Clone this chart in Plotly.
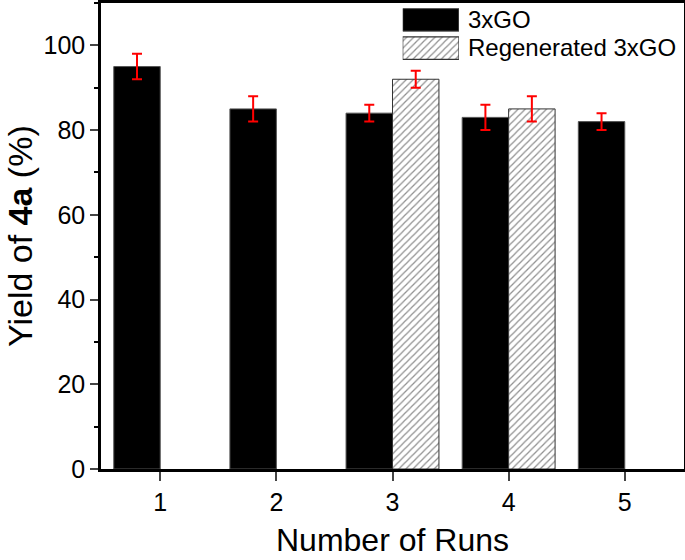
import plotly.graph_objects as go

runs = [1, 2, 3, 4, 5]
yield_go = [95, 85, 84, 83, 82]
err_go = [3, 3, 2, 3, 2]
runs_regen = [3, 4]
yield_regen = [92, 85]
err_regen = [2, 3]
series_names = ["3xGO", "Regenerated 3xGO"]
x_ticks = [1, 2, 3, 4, 5]
y_ticks = [0, 20, 40, 60, 80, 100]

FONT = "Arial, Liberation Sans, sans-serif"
hatch = dict(shape="/", fgcolor="#222222", bgcolor="white", size=5, solidity=0.25)

fig = go.Figure()
fig.add_trace(go.Bar(
    x=runs, y=yield_go, name=series_names[0],
    marker=dict(color="black", line=dict(color="#555555", width=1)),
    error_y=dict(type="data", array=err_go, color="#ff0000", thickness=2, width=5),
    showlegend=False,
))
fig.add_trace(go.Bar(
    x=runs_regen, y=yield_regen, name=series_names[1],
    marker=dict(color="white", pattern=hatch, line=dict(color="#333333", width=1)),
    error_y=dict(type="data", array=err_regen, color="#ff0000", thickness=2, width=5),
    showlegend=False,
))

# Legend drawn as a small inset axis with large swatches
fig.add_trace(go.Bar(
    x=[1], y=[series_names[0]], orientation="h", xaxis="x2", yaxis="y2",
    offsetgroup="leg",
    marker=dict(color="black", line=dict(color="#555555", width=1)),
    showlegend=False, hoverinfo="skip",
))
fig.add_trace(go.Bar(
    x=[1], y=[series_names[1]], orientation="h", xaxis="x2", yaxis="y2",
    offsetgroup="leg",
    marker=dict(color="white", pattern=hatch, line=dict(color="#333333", width=1.2)),
    showlegend=False, hoverinfo="skip",
))

fig.update_layout(
    width=685, height=560,
    margin=dict(l=101, r=1, t=3, b=91),
    paper_bgcolor="white", plot_bgcolor="white",
    barmode="group", bargap=0.2, bargroupgap=0,
    font=dict(family=FONT, color="black"),
    xaxis=dict(
        range=[0.49, 5.51], tickvals=x_ticks, ticks="outside", ticklen=9, tickwidth=2,
        showline=True, linewidth=2.5, linecolor="black", mirror=True,
        showgrid=False, zeroline=False, tickfont=dict(size=25), automargin=False,
    ),
    yaxis=dict(
        range=[0, 110], tickvals=y_ticks, ticks="outside", ticklen=8, tickwidth=2,
        minor=dict(dtick=10, ticks="outside", ticklen=4, tickwidth=2, tickcolor="black"),
        showline=True, linewidth=2.5, linecolor="black", mirror=True,
        showgrid=False, zeroline=False, tickfont=dict(size=25), automargin=False,
    ),
    xaxis2=dict(domain=[0.5175, 0.614], range=[0, 1], anchor="y2",
                visible=False, fixedrange=True, automargin=False),
    yaxis2=dict(domain=[0.873, 0.994], anchor="x2", autorange="reversed",
                tickmode="array", tickvals=series_names,
                side="right", showline=False, showgrid=False, zeroline=False,
                ticks="", ticklabelstandoff=8, tickfont=dict(size=24), automargin=False),
    annotations=[
        dict(text="Number of Runs", xref="paper", yref="paper", x=0.5, y=0,
             yshift=-51, xanchor="center", yanchor="top", showarrow=False,
             font=dict(size=32)),
        dict(text="Yield of <b>4a</b> (%)", xref="paper", yref="paper", x=0, y=0.5,
             xshift=-81, xanchor="center", yanchor="middle", textangle=-90,
             showarrow=False, font=dict(size=34)),
    ],
)
fig.write_html("out.html", config={"displayModeBar": False},
               post_script="document.body.style.margin='0';document.body.style.padding='0';")
